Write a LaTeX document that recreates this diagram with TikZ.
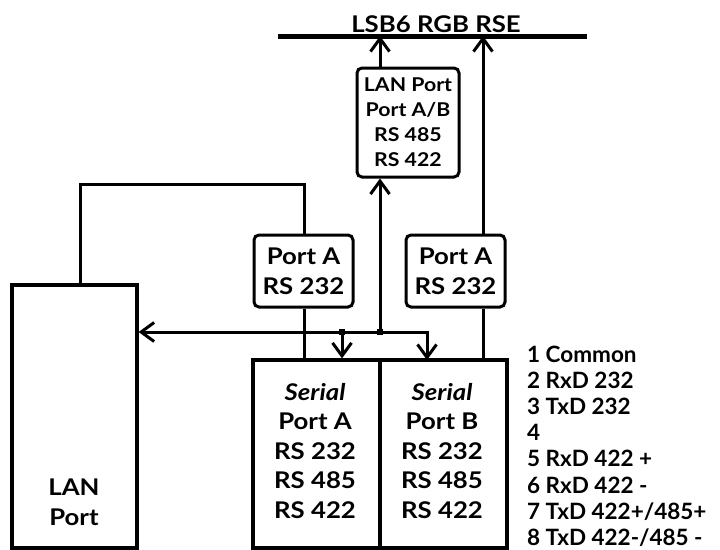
\documentclass[tikz,border=0pt]{standalone}
\usepackage{fontspec}
\setmainfont{Lato}[FakeStretch=1.12]
\newfontfamily\listfont{Lato}
\usetikzlibrary{arrows.meta,calc}
\tikzset{
  txt/.style={font=\bfseries\fontsize{23}{30}\selectfont, inner sep=0pt, align=center},
  boxr/.style={draw, line width=3pt, rounded corners=5pt, inner sep=0pt},
  boxs/.style={draw, line width=3.2pt, inner sep=0pt},
  conn/.style={line width=3pt},
  arr/.style={conn, -{Straight Barb[length=13pt,width=19pt]}},
  dot/.style={fill, minimum size=6.5pt, inner sep=0pt, rectangle},
  item/.style={font=\listfont\bfseries\fontsize{22.5}{27}\selectfont, inner sep=0pt, anchor=base west},
}
\begin{document}
\begin{tikzpicture}[x=1pt,y=-1pt]
\useasboundingbox (0,0) rectangle (720,549);
% bus
\coordinate (busL) at (278,36);
\coordinate (busR) at (587,36);
\draw[line width=5pt] (busL) -- (busR);
\node[txt, anchor=base] (title) at (436,32) {LSB6 RGB RSE};
% boxes
\node[boxr, minimum width=102pt, minimum height=109pt, font=\bfseries\fontsize{19}{25}\selectfont, align=center] (mid) at (408,122.5) {LAN Port\\Port A/B\\RS 485\\RS 422};
\node[boxr, txt, minimum width=99pt, minimum height=72pt] (pA1) at (303.5,271) {Port A\\RS 232};
\node[boxr, txt, minimum width=99pt, minimum height=72pt] (pA2) at (455.5,271) {Port A\\RS 232};
\node[boxs, minimum width=125pt, minimum height=263pt] (lan) at (74.5,416.5) {};
\node[txt] (lantxt) at (74,502) {LAN\\Port};
\node[boxs, minimum width=127pt, minimum height=188pt] (serA) at (316.5,454) {};
\node[boxs, minimum width=127pt, minimum height=188pt] (serB) at (443.5,454) {};
\node[txt, font=\bfseries\fontsize{23}{29.5}\selectfont] (serAtxt) at (315,451) {\itshape Serial\\Port A\\RS 232\\RS 485\\RS 422};
\node[txt, font=\bfseries\fontsize{23}{29.5}\selectfont] (serBtxt) at (442,451) {\itshape Serial\\Port B\\RS 232\\RS 485\\RS 422};
% coordinates
\coordinate (j1) at (342,332);
\coordinate (j2) at (380,332);
\coordinate (lb) at (304,360);
\coordinate (rb) at (483,360);
\coordinate (hb) at (427,360);
\coordinate (lt) at (80,184);
% connectors
\draw[arr] (j2) -- (j2 |- mid.south);
\draw[arr] (j2 |- mid.north) -- (j2 |- busL);
\draw[conn] (rb) -- (rb |- pA2.south);
\draw[arr] (rb |- pA2.north) -- (rb |- busL);
\draw[conn] (lb) -- (lb |- pA1.south);
\draw[conn] (lb |- pA1.north) |- (lt) -- (lt |- lan.north);
\draw[conn, {Straight Barb[length=13pt,width=19pt]}-{Straight Barb[length=13pt,width=19pt]}] (j1 -| lan.east) -| (hb);
\draw[arr] (j1) -- (j1 |- serA.north);
\node[dot] (d1) at (j1) {};
\node[dot] (d2) at (j2) {};
% pin list
\node[item] (l1) at (527,362) {1 Common};
\node[item] (l2) at (527,388.2) {2 RxD 232};
\node[item] (l3) at (527,414.4) {3 TxD 232};
\node[item] (l4) at (527,440.6) {4};
\node[item] (l5) at (527,466.8) {5 RxD 422 +};
\node[item] (l6) at (527,493) {6 RxD 422 -};
\node[item] (l7) at (527,519.2) {7 TxD 422+/485+};
\node[item] (l8) at (527,545.4) {8 TxD 422-/485 -};
\end{tikzpicture}
\end{document}
